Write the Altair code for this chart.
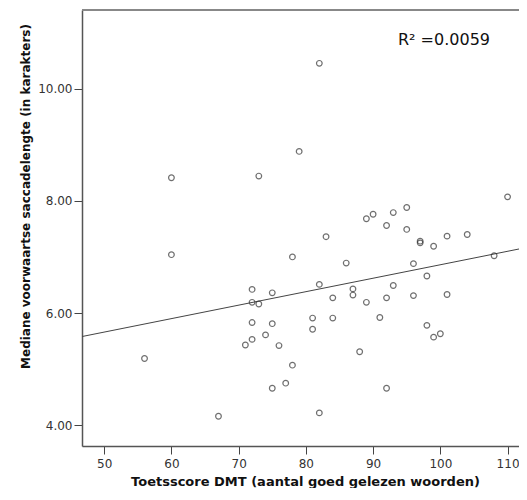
import altair as alt
import pandas as pd

# DMT test score (x) and median forward saccade length (y)
dmt = [60, 73, 82, 79, 110, 89, 90, 93, 95, 92, 95, 83, 97, 97, 99, 101, 104,
       78, 86, 96, 108, 98, 82, 87, 87, 93, 84, 89, 92, 96, 101, 81, 84, 81,
       91, 98, 99, 100, 88, 78, 77, 92, 82, 76, 60, 56, 67, 72, 72, 73, 75,
       72, 75, 74, 72, 71, 75]
sacc = [8.41, 8.44, 10.45, 8.88, 8.07, 7.68, 7.76, 7.79, 7.88, 7.56, 7.49, 7.36,
        7.28, 7.25, 7.19, 7.37, 7.40, 7.00, 6.89, 6.88, 7.02, 6.66, 6.51, 6.43,
        6.32, 6.49, 6.27, 6.19, 6.27, 6.31, 6.33, 5.91, 5.91, 5.71, 5.92, 5.78,
        5.57, 5.63, 5.31, 5.07, 4.75, 4.66, 4.22, 5.42, 7.04, 5.19, 4.16, 6.42,
        6.19, 6.16, 6.36, 5.83, 5.81, 5.61, 5.53, 5.43, 4.66]

x_ticks = [50, 60, 70, 80, 90, 100, 110]
y_ticks = [4, 6, 8, 10]
X_DOMAIN = [46.7, 111.7]
Y_DOMAIN = [3.63, 11.40]

# Fit line
FIT_INTERCEPT = 4.46
FIT_SLOPE = 0.024
r2_label = "R² =0.0059"

W, H = 437, 436

df = pd.DataFrame({"x": dmt, "y": sacc})
fit = pd.DataFrame({"x": X_DOMAIN,
                    "y": [FIT_INTERCEPT + FIT_SLOPE * v for v in X_DOMAIN]})

xs = alt.Scale(domain=X_DOMAIN, nice=False, zero=False)
ys = alt.Scale(domain=Y_DOMAIN, nice=False, zero=False)

x_axis = alt.Axis(values=x_ticks, grid=False, title="Toetsscore DMT (aantal goed gelezen woorden)",
                  domainColor="#555555", domainWidth=1.5, tickColor="#444444", tickSize=8,
                  labelFontSize=12, labelColor="#333333", labelFont="DejaVu Sans",
                  labelPadding=4, titleFont="DejaVu Sans", titleFontSize=13,
                  titleFontWeight="bold", titleColor="#111111",
                  titleX=223, titleY=39, titleAlign="center", titleBaseline="alphabetic")
y_axis = alt.Axis(values=y_ticks, format=".2f", grid=False,
                  title="Mediane voorwaartse saccadelengte (in karakters)",
                  domainColor="#555555", domainWidth=1.5, tickColor="#444444", tickSize=8,
                  labelFontSize=12, labelColor="#333333", labelFont="DejaVu Sans",
                  labelPadding=2, titleFont="DejaVu Sans", titleFontSize=12,
                  titleFontWeight="bold", titleColor="#111111",
                  titleAngle=-90, titleX=-53, titleY=186, titleAlign="center",
                  titleBaseline="alphabetic")

points = alt.Chart(df).mark_point(shape="circle", filled=False, size=32,
                                  strokeWidth=1.2, color="#333333", clip=True).encode(
    x=alt.X("x:Q", scale=xs, axis=x_axis),
    y=alt.Y("y:Q", scale=ys, axis=y_axis),
)

line = alt.Chart(fit).mark_line(color="#444444", strokeWidth=1, clip=True).encode(
    x=alt.X("x:Q", scale=xs),
    y=alt.Y("y:Q", scale=ys),
)

top_border = alt.Chart(fit).mark_rule(color="#888888", strokeWidth=2).encode(
    x=alt.value(0), x2=alt.value(W), y=alt.value(0)
)

label = alt.Chart(pd.DataFrame({"t": [r2_label]})).mark_text(
    align="left", baseline="alphabetic", fontSize=16, font="DejaVu Sans", color="#111111"
).encode(x=alt.value(316), y=alt.value(35), text="t:N")

chart = alt.layer(line, points, top_border, label).properties(
    width=W, height=H,
    autosize=alt.AutoSizeParams(type="none"),
    padding={"left": 74, "top": 2, "right": 0, "bottom": 42},
).configure_view(fill="#f0f0f0", stroke=None).configure(background="white")

chart.save("out.html", embed_options={"renderer": "svg", "actions": False})
